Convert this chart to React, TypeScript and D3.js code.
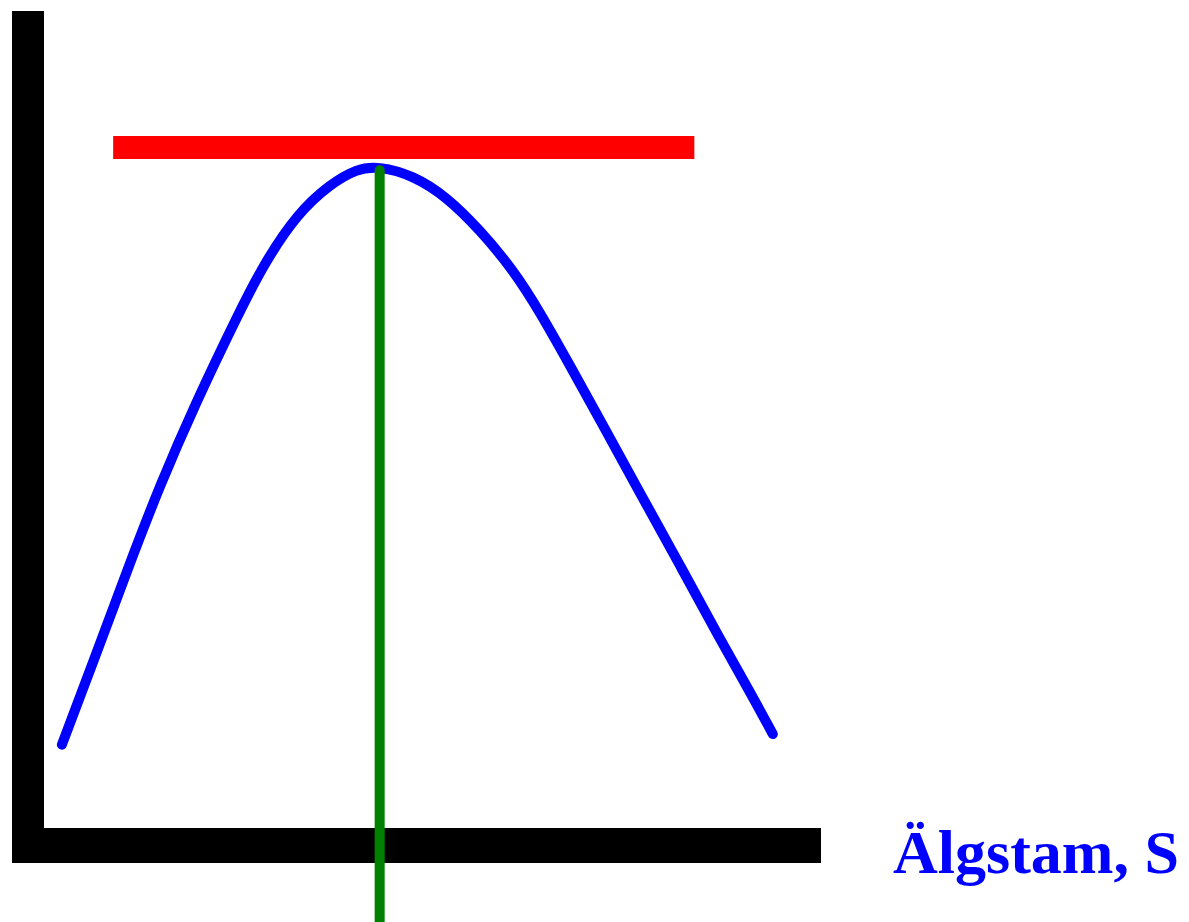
import React from "react";
import * as d3 from "d3";

// Stock (x) vs growth (y) values, in chart units (0–100)
const stockValues = [2.3, 6.6, 10.8, 14.9, 19.4, 25.2, 28.4, 32.6, 36.8, 40.3, 43.0, 47.5, 51.9, 56.1, 60.4, 63.8, 67.7, 71.6, 76.7, 81.9, 87.0, 90.9, 93.8];
const growthValues = [10.2, 21.0, 31.8, 41.9, 51.8, 63.3, 69.2, 75.2, 78.8, 80.7, 81.0, 79.9, 77.2, 73.2, 68.3, 63.2, 56.6, 49.9, 41.0, 32.1, 23.1, 16.6, 11.5];

// Maximum sustainable yield line (red) and optimal stock (green)
const msyLevel = [83.3];
const msyRange = [8.9, 83.7];
const optimalStock = [43.2];
const optimalTop = [80.5];
const axisLabel = ["Älgstam, S"];

const W = 1189;
const H = 922;

export default function App() {
  const x = d3.scaleLinear().domain([0, 100]).range([44, 821]);
  const y = d3.scaleLinear().domain([0, 100]).range([828, 11]);

  const pts: [number, number][] = stockValues.map((s, i) => [s, growthValues[i]]);
  const line = d3
    .line<[number, number]>()
    .x((d) => x(d[0]))
    .y((d) => y(d[1]))
    .curve(d3.curveBasis);

  const axisW = 32;
  const axisH = 35;

  return (
    <svg
      width={W}
      height={H}
      style={{ position: "absolute", left: 0, top: 0, display: "block", background: "#fff" }}
    >
      {/* vertical axis */}
      <rect x={x(0) - axisW} y={y(100)} width={axisW} height={y(0) + axisH - y(100)} fill="#000" />
      {/* horizontal axis */}
      <rect x={x(0) - axisW} y={y(0)} width={x(100) - x(0) + axisW} height={axisH} fill="#000" />

      {/* red MSY line */}
      <line
        x1={x(msyRange[0])}
        x2={x(msyRange[1])}
        y1={y(msyLevel[0])}
        y2={y(msyLevel[0])}
        stroke="#ff0000"
        strokeWidth={23}
      />

      {/* blue growth curve */}
      <path d={line(pts) || ""} fill="none" stroke="#0000ff" strokeWidth={10} strokeLinecap="round" strokeLinejoin="round" />

      {/* green optimal stock line */}
      <line
        x1={x(optimalStock[0])}
        x2={x(optimalStock[0])}
        y1={y(optimalTop[0])}
        y2={H + 10}
        stroke="#008000"
        strokeWidth={10}
        strokeLinecap="round"
      />

      <text
        x={893}
        y={873}
        fill="#0000ff"
        fontFamily="'Liberation Serif', 'Times New Roman', serif"
        fontWeight="bold"
        fontSize={62}
      >
        {axisLabel[0]}
      </text>
    </svg>
  );
}
